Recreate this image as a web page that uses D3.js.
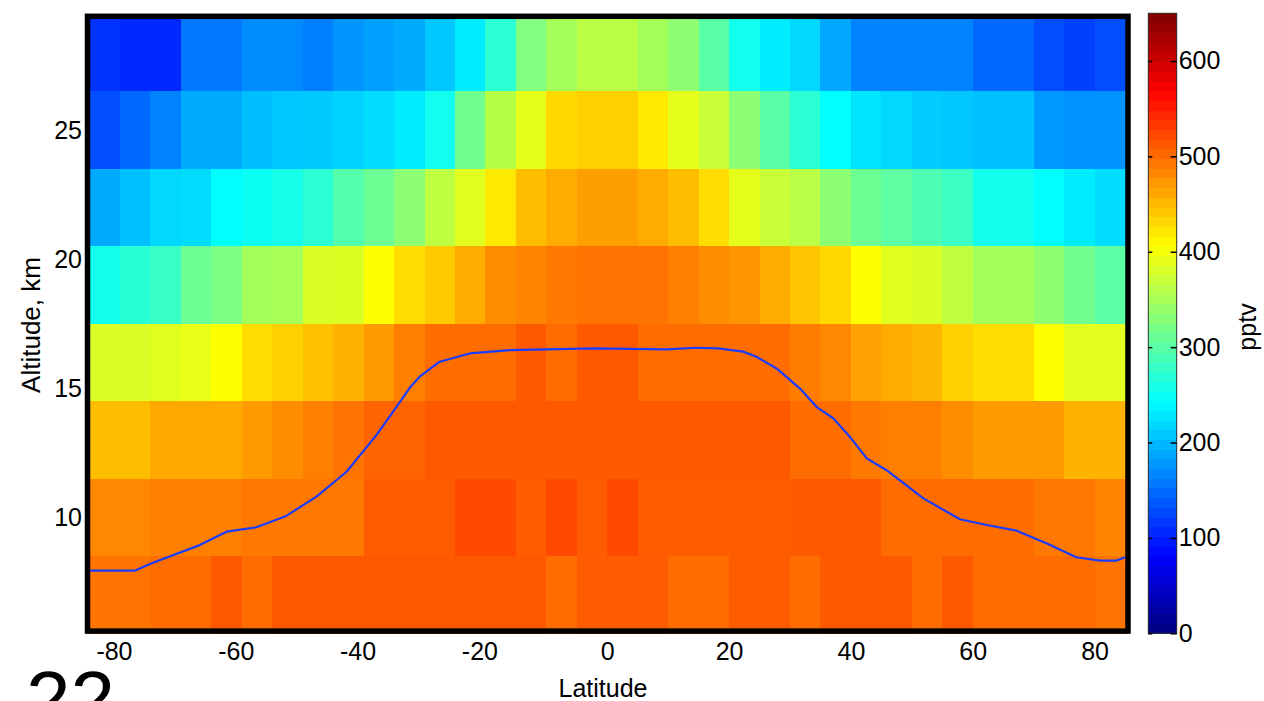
<!DOCTYPE html>
<html>
<head>
<meta charset="utf-8">
<script src="https://cdn.jsdelivr.net/npm/d3@7"></script>
<style>
    body { margin: 0; background: #ffffff; }
    text { font-family: "Liberation Sans", Arial, sans-serif; fill: #000; }
</style>
</head>
<body>
<div id="chart"></div>
<script>
// latitude bin centres (5 deg bins)
const latitudes = [-82.5, -77.5, -72.5, -67.5, -62.5, -57.5, -52.5, -47.5, -42.5, -37.5, -32.5, -27.5,
                   -22.5, -17.5, -12.5, -7.5, -2.5, 2.5, 7.5, 12.5, 17.5, 22.5, 27.5, 32.5, 37.5, 42.5,
                   47.5, 52.5, 57.5, 62.5, 67.5, 72.5, 77.5, 82.5];
// altitude bin centres, km (3 km bins), top to bottom
const altitudes = [28, 25, 22, 19, 16, 13, 10, 7];

// mixing ratio in pptv, one row per altitude
const row_28 = [114, 107, 107, 157, 157, 170, 170, 163, 176, 183, 190, 208, 232, 271, 325, 348, 363,
                363, 348, 333, 300, 254, 232, 219, 189, 165, 165, 165, 165, 148, 148, 131, 122, 131];
const row_25 = [131, 148, 165, 190, 190, 203, 208, 210, 215, 222, 232, 254, 315, 360, 390, 431, 436,
                436, 420, 390, 371, 333, 300, 271, 244, 227, 219, 211, 208, 204, 204, 179, 175, 175];
const row_22 = [190, 204, 219, 222, 244, 250, 258, 271, 297, 312, 333, 365, 387, 420, 448, 460, 468,
                468, 460, 448, 428, 390, 371, 362, 333, 312, 303, 292, 282, 255, 255, 244, 232, 222];
const row_19 = [255, 270, 280, 312, 322, 348, 350, 382, 384, 406, 428, 440, 460, 479, 484, 492, 495,
                495, 495, 488, 479, 474, 460, 444, 431, 406, 387, 382, 366, 348, 348, 335, 316, 302];
const row_16 = [382, 382, 387, 392, 406, 428, 436, 446, 455, 470, 488, 499, 499, 499, 512, 499, 512,
                512, 499, 499, 499, 499, 499, 490, 482, 466, 460, 453, 436, 428, 428, 406, 388, 388];
const row_13 = [448, 448, 461, 461, 461, 470, 479, 487, 495, 505, 505, 512, 512, 512, 512, 512, 512,
                512, 512, 512, 512, 512, 512, 500, 500, 492, 487, 487, 479, 470, 470, 470, 455, 455];
const row_10 = [482, 482, 487, 487, 487, 492, 492, 492, 492, 510, 510, 510, 523, 523, 510, 523, 510,
                523, 510, 510, 510, 510, 510, 512, 512, 512, 500, 500, 500, 500, 500, 492, 492, 484];
const row_7  = [495, 495, 500, 500, 512, 500, 512, 512, 512, 512, 512, 512, 512, 512, 512, 500, 511,
                511, 511, 500, 500, 510, 510, 500, 512, 512, 512, 500, 512, 500, 500, 500, 500, 495];
const rows = [row_28, row_25, row_22, row_19, row_16, row_13, row_10, row_7];

// tropopause height
const tropo_lat = [-85, -77.6, -74.8, -66.9, -62.5, -57.6, -52.7, -47.8, -42.8, -37.9, -34.1, -32.4,
                   -30.8, -27.5, -22.6, -16.0, -2.3, 9.7, 14.4, 18.2, 22.3, 24.5, 27.8, 31.6, 34.5,
                   37.1, 39.8, 42.6, 45.8, 51.9, 57.9, 62.3, 67.2, 72.1, 77.0, 80.9, 83.6, 85];
const tropo_alt = [7.94, 7.94, 8.23, 8.93, 9.45, 9.62, 10.06, 10.8, 11.77, 13.19, 14.45, 15.03,
                   15.45, 16.03, 16.35, 16.48, 16.55, 16.51, 16.57, 16.55, 16.42, 16.22, 15.77, 15.0,
                   14.25, 13.84, 13.13, 12.29, 11.84, 10.74, 9.93, 9.71, 9.49, 9.0, 8.46, 8.33, 8.33, 8.46];

const x_ticks = [-80, -60, -40, -20, 0, 20, 40, 60, 80];
const y_ticks = [10, 15, 20, 25];
const cbar_ticks = [0, 100, 200, 300, 400, 500, 600];
const c_max = 650;
const n_levels = 64;

// matlab style jet
function jet(t)
{
    const clamp = v => Math.max(0, Math.min(1, v));
    const r = clamp(1.5 - Math.abs(4 * t - 3));
    const g = clamp(1.5 - Math.abs(4 * t - 2));
    const b = clamp(1.5 - Math.abs(4 * t - 1));
    return d3.rgb(r * 255, g * 255, b * 255).formatHex();
}

const width = 1264, height = 701;
const svg = d3.select("#chart").append("svg")
    .attr("width", width)
    .attr("height", height);

const x = d3.scaleLinear().domain([-85, 85]).range([89.5, 1125]);
const y = d3.scaleLinear().domain([5.5, 29.5]).range([633.7, 13.8]);
const colour = d3.scaleLinear().domain([0, c_max]).range([0, 1]).clamp(true);

// cells
const cells = [];
for (let i = 0; i < altitudes.length; i++)
    for (let j = 0; j < latitudes.length; j++)
        cells.push({lat: latitudes[j], alt: altitudes[i], v: rows[i][j]});

svg.append("g")
    .selectAll("rect")
    .data(cells)
    .join("rect")
    .attr("x", d => x(d.lat - 2.5))
    .attr("y", d => y(d.alt + 1.5))
    .attr("width", d => x(d.lat + 2.5) - x(d.lat - 2.5) + 0.5)
    .attr("height", d => y(d.alt - 1.5) - y(d.alt + 1.5) + 0.5)
    .attr("fill", d => jet(colour(d.v)))
    .attr("shape-rendering", "crispEdges");

// tropopause line
const line = d3.line().x(d => x(d[0])).y(d => y(d[1]));
svg.append("path")
    .datum(d3.zip(tropo_lat, tropo_alt))
    .attr("d", line)
    .attr("fill", "none")
    .attr("stroke", "#1a3cff")
    .attr("stroke-width", 2.2)
    .attr("stroke-linejoin", "round");

// frame
svg.append("rect")
    .attr("x", 87.5)
    .attr("y", 16.3)
    .attr("width", 1040.5)
    .attr("height", 614.8)
    .attr("fill", "none")
    .attr("stroke", "#000")
    .attr("stroke-width", 5.5);

// plain hyphen like the original, not the unicode minus
const plain = d => String(d);

const x_axis = svg.append("g")
    .attr("transform", "translate(0,633.7)")
    .call(d3.axisBottom(x).tickValues(x_ticks).tickFormat(plain).tickSize(0).tickPadding(9));
x_axis.selectAll("text").attr("dx", d => d < 0 ? -6 : 0);
const y_axis = svg.append("g")
    .attr("transform", "translate(89.5,0)")
    .call(d3.axisLeft(y).tickValues(y_ticks).tickFormat(plain).tickSize(0).tickPadding(7.5));
[x_axis, y_axis].forEach(a => {
    a.select(".domain").remove();
    a.selectAll("text").style("font-size", "25px").attr("fill", "#000");
});

svg.append("text")
    .attr("x", 603)
    .attr("y", 697)
    .attr("text-anchor", "middle")
    .style("font-size", "25px")
    .text("Latitude");

svg.append("text")
    .attr("transform", "translate(40,325) rotate(-90)")
    .attr("text-anchor", "middle")
    .style("font-size", "26px")
    .text("Altitude, km");

// colour bar
const cb_left = 1148.3, cb_right = 1176.7;
const cb = d3.scaleLinear().domain([0, c_max]).range([633.3, 13.3]);
const levels = d3.range(n_levels);
svg.append("g")
    .selectAll("rect")
    .data(levels)
    .join("rect")
    .attr("x", cb_left)
    .attr("y", k => cb((k + 1) * c_max / n_levels))
    .attr("width", cb_right - cb_left)
    .attr("height", k => cb(k * c_max / n_levels) - cb((k + 1) * c_max / n_levels) + 0.5)
    .attr("fill", k => jet((k + 0.5) / n_levels))
    .attr("shape-rendering", "crispEdges");

svg.append("rect")
    .attr("x", cb_left)
    .attr("y", 13.3)
    .attr("width", cb_right - cb_left)
    .attr("height", 620)
    .attr("fill", "none")
    .attr("stroke", "#333")
    .attr("stroke-width", 1);

const cb_axis_r = svg.append("g")
    .attr("transform", "translate(" + cb_right + ",0)")
    .call(d3.axisRight(cb).tickValues(cbar_ticks).tickFormat(plain)
        .tickSizeInner(-6).tickSizeOuter(0).tickPadding(2));
const cb_axis_l = svg.append("g")
    .attr("transform", "translate(" + cb_left + ",0)")
    .call(d3.axisLeft(cb).tickValues(cbar_ticks).tickSizeInner(-4).tickSizeOuter(0).tickFormat(""));
[cb_axis_r, cb_axis_l].forEach(a => {
    a.select(".domain").remove();
    a.selectAll("line").attr("stroke", "#000").attr("stroke-width", 1.5);
});
cb_axis_r.selectAll("text").style("font-size", "25px").attr("fill", "#000");

svg.append("text")
    .attr("transform", "translate(1256,327) rotate(-90)")
    .attr("text-anchor", "middle")
    .style("font-size", "25px")
    .text("pptv");

// page number, cut by the bottom edge
svg.append("text")
    .attr("x", 26)
    .attr("y", 727)
    .style("font-size", "80px")
    .text("22");
</script>
</body>
</html>
